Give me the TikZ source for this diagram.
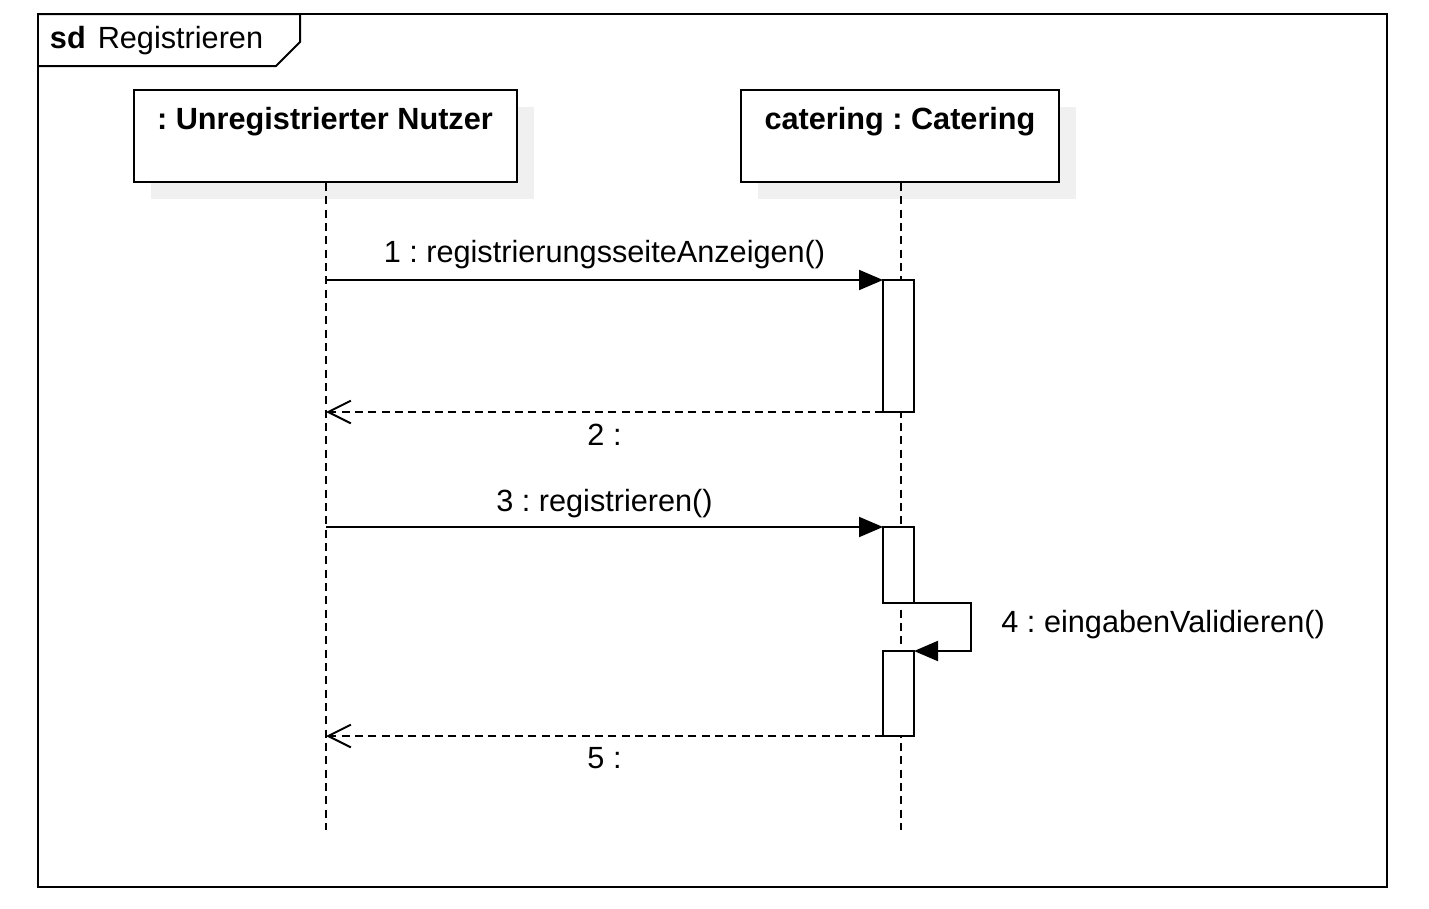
\documentclass[tikz,border=0pt]{standalone}
\usepackage{fontspec}
\setmainfont{Liberation Sans}
\usetikzlibrary{arrows.meta,shadows}
\frenchspacing

\definecolor{shgray}{RGB}{240, 240, 240}

\begin{document}
\begin{tikzpicture}[x=0.75pt, y=-0.75pt, line width=1.5pt,
		font=\fontsize{23}{27}\selectfont,
		head/.style={draw, fill=white, minimum height=69pt,
				general shadow={fill=shgray, shadow xshift=12.75pt, shadow yshift=-12.75pt}},
		act/.style={draw, fill=white, minimum width=23.25pt, inner sep=0pt, outer sep=0pt},
		lifeline/.style={dash pattern=on 6pt off 4pt},
		call/.style={-{Triangle[length=18pt, width=15pt]}},
		ret/.style={dash pattern=on 6pt off 4pt, -{Straight Barb[length=17pt, width=17pt, line width=1.5pt]}}]
			\useasboundingbox (0,0) rectangle (1429,908);

			% --- Frame ---
			\draw (38,14) rectangle (1387,887);
			\draw (38,14) -- (300,14) -- (300,42) -- (276,66) -- (38,66);
			\node[anchor=west, inner sep=0pt] (sd) at (49,41) {\textbf{sd}\hspace{9pt}Registrieren};

			% --- Lifelines ---
			\node[head, minimum width=287.25pt] (nutzer) at (325,136) {};
			\node[head, minimum width=238.5pt] (catering) at (900,136) {};
			\node[anchor=north, font=\fontsize{23}{27}\selectfont\bfseries] (nutzerlbl) at (325,102) {: Unregistrierter Nutzer};
			\node[anchor=north, font=\fontsize{23}{27}\selectfont\bfseries] (cateringlbl) at (900,102) {catering : Catering};

			\coordinate (end1) at (326,830);
			\coordinate (end2) at (901,830);
			\draw[lifeline] (nutzer.south -| end1) -- (end1);
			\draw[lifeline] (catering.south -| end2) -- (end2);

			% Activations
			\node[act, minimum height=99pt] (act1) at (898.5,346) {};
			\node[act, minimum height=57pt] (act2) at (898.5,565) {};
			\node[act, minimum height=63.75pt] (act3) at (898.5,693.5) {};

			% --- Messages ---
			\coordinate (m1) at (326,280);
			\coordinate (m2) at (326,412);
			\coordinate (m3) at (326,527);
			\coordinate (m5) at (326,736);
			\coordinate (s4) at (971,603);

			\draw[call] (m1) -- (act1.north west) node[midway, above=4pt] {1 : registrierungsseiteAnzeigen()};
			\draw[ret] (act1.south west) -- (m2) node[midway, below=5pt] {2 :};
			\draw[call] (m3) -- (act2.north west) node[midway, above=3pt] {3 : registrieren()};
			\draw[call] (act2.south) -- (s4) |- (act3.north east);
			\node[anchor=west] (lbl4) at (996,625) {4 : eingabenValidieren()};
			\draw[ret] (act3.south west) -- (m5) node[midway, below=4.5pt] {5 :};

		\end{tikzpicture}
\end{document}
